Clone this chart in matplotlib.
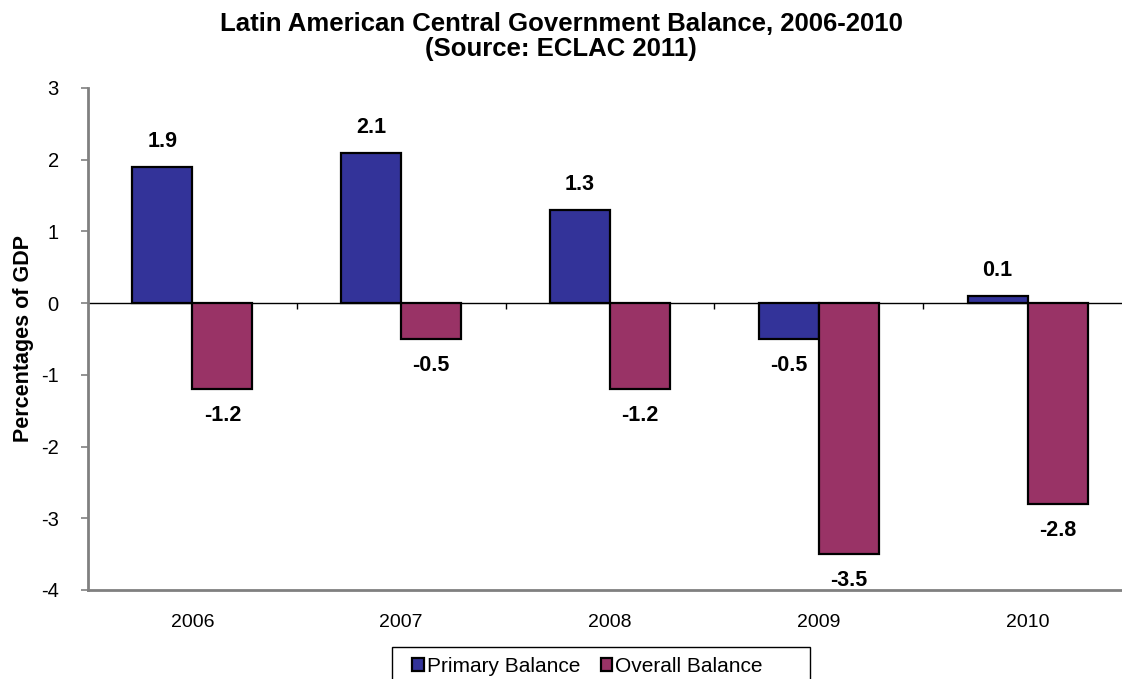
import matplotlib
matplotlib.use('Agg')
import matplotlib.pyplot as plt
from matplotlib.patches import Rectangle
import numpy as np

plt.rcParams['font.family'] = ['Liberation Sans', 'DejaVu Sans']
plt.rcParams['axes.unicode_minus'] = False

# 数据 (% of GDP)
years = ['2006', '2007', '2008', '2009', '2010']
primary = [1.9, 2.1, 1.3, -0.5, 0.1]
overall = [-1.2, -0.5, -1.2, -3.5, -2.8]

fig = plt.figure(figsize=(11.22, 6.79), dpi=100)
ax = fig.add_axes([0.0784, 0.1311, 0.9305, 0.7393])

x = np.arange(len(years))
w = 0.287
b1 = ax.bar(x - w / 2, primary, w, color='#333399', edgecolor='black', linewidth=1.6,
            label='Primary Balance', zorder=3)
b2 = ax.bar(x + w / 2, overall, w, color='#993366', edgecolor='black', linewidth=1.6,
            label='Overall Balance', zorder=3)

# 数值标签
for bars, vals in [(b1, primary), (b2, overall)]:
    for rect, v in zip(bars, vals):
        cx = rect.get_x() + rect.get_width() / 2
        off = 18 if v >= 0 else -19
        ax.annotate(f'{v:.1f}', (cx, v), xytext=(0, off), textcoords='offset points',
                    ha='center', va='center', fontsize=15.5, fontweight='bold')

# 零线及分类刻度
ax.axhline(0, color='black', linewidth=1, zorder=2)
ax.vlines(np.arange(len(years) - 1) + 0.5, -0.08, 0, color='black', linewidth=1, zorder=2)

ax.set_xlim(-0.5, len(years) - 0.5)
ax.set_ylim(-4, 3)
ax.set_yticks(range(-4, 4))
ax.set_xticks(x)
ax.set_xticklabels(years)
ax.tick_params(axis='x', length=0, pad=17, labelsize=14)
ax.tick_params(axis='y', length=5, width=1.2, color='#808080', pad=16, labelsize=14.5)

for s in ['top', 'right']:
    ax.spines[s].set_visible(False)
for s in ['left', 'bottom']:
    ax.spines[s].set_color('#808080')
    ax.spines[s].set_linewidth(2)

ax.set_ylabel('Percentages of GDP', fontsize=15.5, fontweight='bold', labelpad=5)

fig.suptitle('Latin American Central Government Balance, 2006-2010\n(Source: ECLAC 2011)',
             fontsize=18.5, fontweight='bold', y=0.982, linespacing=1.05)

# 图例 (无框, 框单独画, 底边超出画布)
leg = fig.legend(handles=[b1, b2], loc='center', bbox_to_anchor=(0.5236, 0.019), ncol=2,
                 fontsize=15, frameon=False, handlelength=0.55, handleheight=0.55,
                 handletextpad=0.15, columnspacing=1.0, borderpad=0)
fig.add_artist(Rectangle((0.3494, -0.02), 0.3725, 0.0671, transform=fig.transFigure,
                         facecolor='none', edgecolor='black', linewidth=1))

plt.savefig('out.png', dpi=100)
